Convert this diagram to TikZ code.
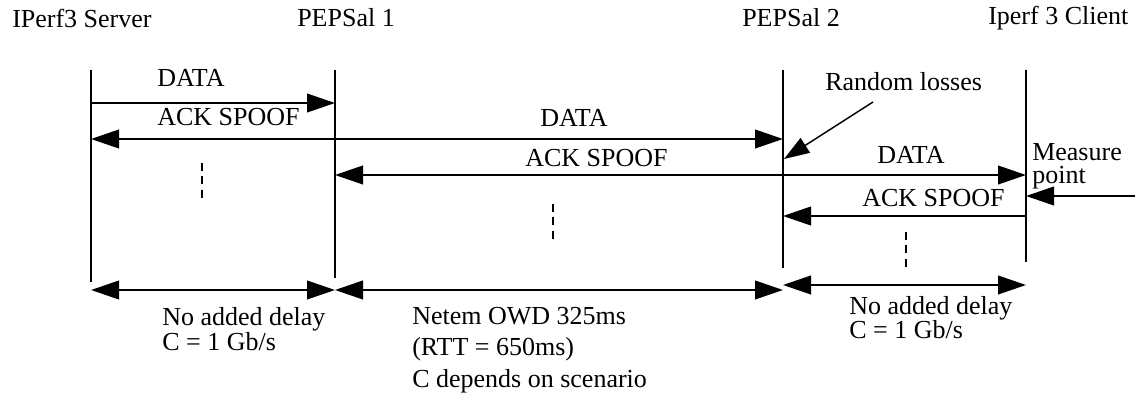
\documentclass[tikz,border=0pt]{standalone}
\usepackage{fontspec}
\setmainfont{Liberation Serif}
\usetikzlibrary{arrows.meta}
\tikzset{>={Triangle[length=21pt,width=14pt]}}

\begin{document}
\begin{tikzpicture}[x=0.75pt,y=-0.75pt,
    life/.style={line width=1.4pt},
    msg/.style={line width=1.4pt,->},
    span/.style={line width=1.4pt,<->},
    dots/.style={line width=1.4pt,dash pattern=on 6pt off 4pt},
    lbl/.style={anchor=west,inner sep=0pt,font=\fontsize{19.5}{21}\selectfont}]
  \useasboundingbox (0,0) rectangle (1135,403);

  % hosts
  \node[lbl] (hsrv)  at (12,18)  {IPerf3 Server};
  \node[lbl] (hpep1) at (297,18) {PEPSal 1};
  \node[lbl] (hpep2) at (742,18) {PEPSal 2};
  \node[lbl] (hcli)  at (988,18) {Iperf 3 Client};

  % lifelines
  \coordinate (srv)  at (91,70);
  \coordinate (pep1) at (335,70);
  \coordinate (pep2) at (783,70);
  \coordinate (cli)  at (1026,70);
  \draw[life] (srv)  -- ++(0,212);
  \draw[life] (pep1) -- ++(0,208);
  \draw[life] (pep2) -- ++(0,198);
  \draw[life] (cli)  -- ++(0,192);

  % message levels
  \coordinate (r1) at (0,103);
  \coordinate (r2) at (0,139);
  \coordinate (r3) at (0,175);
  \coordinate (r4) at (0,216);
  \coordinate (r5) at (0,290);
  \coordinate (r6) at (0,285);

  \draw[msg] (srv |- r1) -- (pep1 |- r1);
  \node[lbl] (d1) at (157,78) {DATA};
  \draw[msg] (pep1 |- r2) -- (srv |- r2);
  \node[lbl] (a1) at (157,117) {ACK SPOOF};
  \draw[msg] (pep1 |- r2) -- (pep2 |- r2);
  \node[lbl] (d2) at (540,118) {DATA};
  \draw[msg] (pep2 |- r3) -- (pep1 |- r3);
  \node[lbl] (a2) at (525,158) {ACK SPOOF};
  \draw[msg] (pep2 |- r3) -- (cli |- r3);
  \node[lbl] (d3) at (877,155) {DATA};
  \draw[msg] (cli |- r4) -- (pep2 |- r4);
  \node[lbl] (a3) at (862,198) {ACK SPOOF};

  % more packets
  \draw[dots] (202,163) -- (202,202);
  \draw[dots] (553,204) -- (553,242);
  \draw[dots] (906,232) -- (906,270);

  % losses and measure point
  \node[lbl] (loss) at (825,82) {Random losses};
  \coordinate (lossfrom) at (873,102);
  \coordinate (losshit) at (784,159);
  \draw[line width=1.1pt,-{Triangle[length=19pt,width=13pt]}] (lossfrom) -- (losshit);
  \node[lbl,align=left,font=\fontsize{19.5}{17}\selectfont] (meas) at (1032,166) {Measure\\point};
  \coordinate (mfrom) at (1135,196);
  \draw[msg] (mfrom) -- (cli |- mfrom);

  % links
  \draw[span] (srv |- r5) -- (pep1 |- r5);
  \draw[span] (pep1 |- r5) -- (pep2 |- r5);
  \draw[span] (pep2 |- r6) -- (cli |- r6);
  \node[lbl,align=left,font=\fontsize{19.5}{16.5}\selectfont] (l1) at (162,329)
    {No added delay\\C = 1 Gb/s};
  \node[lbl,align=left,font=\fontsize{19.5}{23.5}\selectfont] (l2) at (412,350)
    {Netem OWD 325ms\\(RTT = 650ms)\\C depends on scenario};
  \node[lbl,align=left,font=\fontsize{19.5}{18}\selectfont] (l3) at (849,318)
    {No added delay\\C = 1 Gb/s};
\end{tikzpicture}
\end{document}
